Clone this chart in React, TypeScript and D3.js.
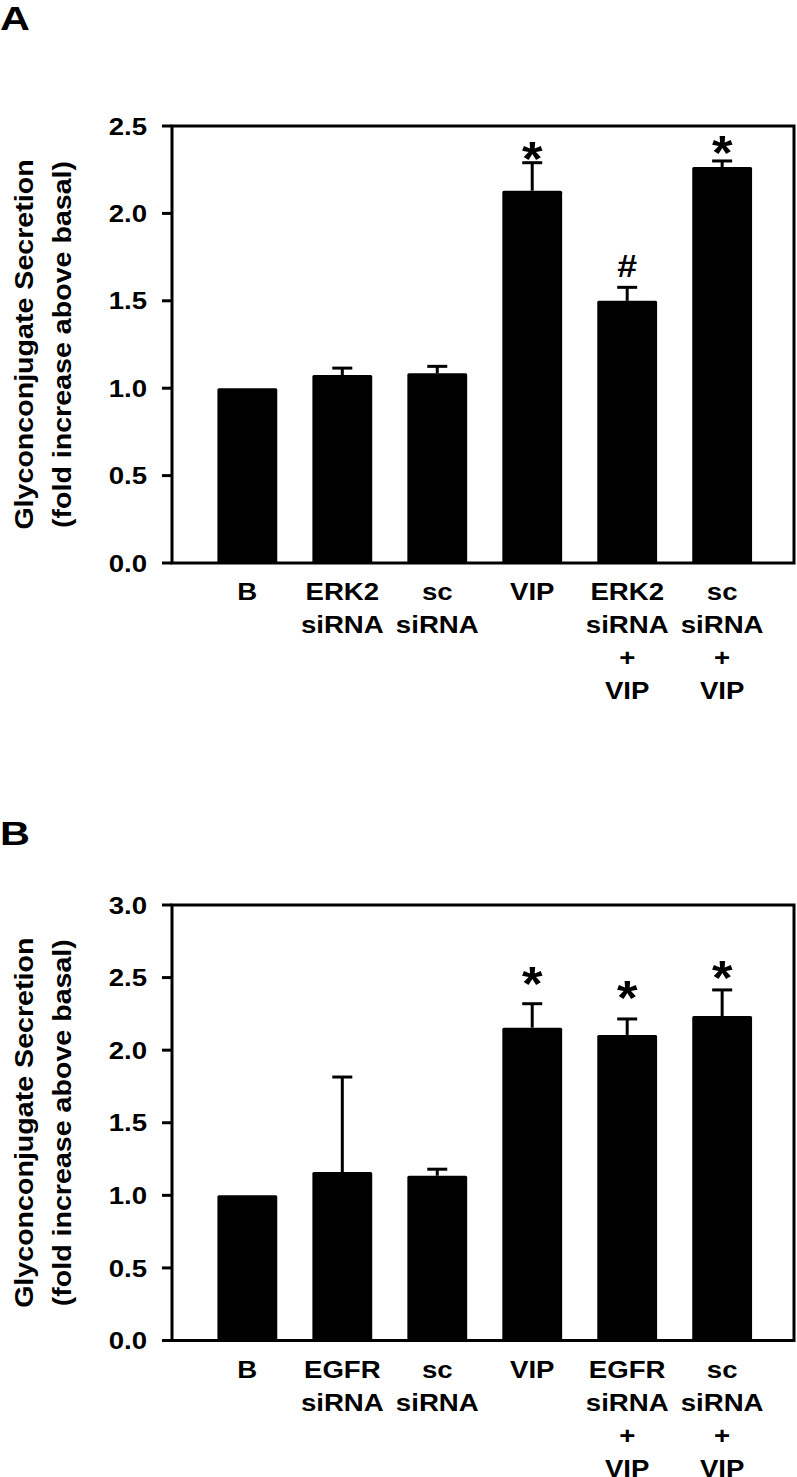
import React from "react";
import * as d3 from "d3";

// ---------- data ----------
const labelsA: string[][] = [
  ["B"],
  ["ERK2", "siRNA"],
  ["sc", "siRNA"],
  ["VIP"],
  ["ERK2", "siRNA", "+", "VIP"],
  ["sc", "siRNA", "+", "VIP"],
];
const valuesA = [1.0, 1.075, 1.085, 2.13, 1.5, 2.265];
const errorsA = [0, 0.04, 0.04, 0.16, 0.077, 0.035];
const marksA = ["", "", "", "*", "#", "*"];
const markLevelA = [0, 0, 0, 2.373, 1.698, 2.409];
const ticksA = [0, 0.5, 1.0, 1.5, 2.0, 2.5];

const labelsB: string[][] = [
  ["B"],
  ["EGFR", "siRNA"],
  ["sc", "siRNA"],
  ["VIP"],
  ["EGFR", "siRNA", "+", "VIP"],
  ["sc", "siRNA", "+", "VIP"],
];
const valuesB = [1.0, 1.16, 1.135, 2.155, 2.105, 2.235];
const errorsB = [0, 0.655, 0.045, 0.165, 0.11, 0.18];
const marksB = ["", "", "", "*", "*", "*"];
const markLevelB = [0, 0, 0, 2.529, 2.433, 2.574];
const ticksB = [0, 0.5, 1.0, 1.5, 2.0, 2.5, 3.0];

const titleLines = ["Glyconconjugate Secretion", "(fold increase above basal)"];

const FONT = "'Liberation Sans', Arial, Helvetica, sans-serif";

function T(props: {
  x: number;
  y: number;
  size: number;
  sx?: number;
  rot?: number;
  anchor?: string;
  children: React.ReactNode;
}) {
  const { x, y, size, sx = 1.15, rot = 0, anchor = "middle", children } = props;
  return (
    <text
      transform={`translate(${x},${y}) rotate(${rot}) scale(${sx},1)`}
      fontSize={size}
      fontFamily={FONT}
      fontWeight="bold"
      textAnchor={anchor}
      fill="#000"
    >
      {children}
    </text>
  );
}

function Panel(props: {
  letter: string;
  letterY: number;
  top: number;
  bottom: number;
  yMax: number;
  ticks: number[];
  labels: string[][];
  values: number[];
  errors: number[];
  marks: string[];
  markLevel: number[];
}) {
  const { letter, letterY, top, bottom, yMax, ticks, labels, values, errors, marks, markLevel } = props;
  const left = 172;
  const right = 794;
  const y = d3.scaleLinear().domain([0, yMax]).range([bottom, top]);
  const keys = labels.map((l) => l.join(" "));
  const x = d3
    .scaleBand<string>()
    .domain(keys)
    .range([left, right])
    .paddingInner(0.37)
    .paddingOuter(0.46)
    .align(0.52);
  const bw = x.bandwidth();
  const fmt = d3.format(".1f");
  const mid = (top + bottom) / 2;
  return (
    <g>
      <T x={0} y={letterY} size={34} sx={1.22} anchor="start">
        {letter}
      </T>
      {/* title */}
      <T x={33} y={mid} size={26} sx={1.1} rot={-90}>
        {titleLines[0]}
      </T>
      <T x={71} y={mid} size={26} sx={1.1} rot={-90}>
        {titleLines[1]}
      </T>
      {/* bars */}
      {values.map((v, i) => (
        <rect
          key={"b" + i}
          x={x(keys[i])}
          y={y(v)}
          width={bw}
          height={y(0) - y(v)}
          fill="#000"
          rx={1.5}
        />
      ))}
      {/* error bars */}
      {values.map((v, i) => {
        if (errors[i] <= 0) return null;
        const cx = (x(keys[i]) as number) + bw / 2;
        return (
          <g key={"e" + i} stroke="#000" strokeWidth={3}>
            <line x1={cx} x2={cx} y1={y(v)} y2={y(v + errors[i])} />
            <line x1={cx - 10} x2={cx + 10} y1={y(v + errors[i])} y2={y(v + errors[i])} />
          </g>
        );
      })}
      {/* significance marks */}
      {marks.map((m, i) => {
        if (!m) return null;
        const cx = (x(keys[i]) as number) + bw / 2;
        const cy = y(markLevel[i]);
        if (m === "*")
          return (
            <T key={"m" + i} x={cx} y={cy + 27} size={48} sx={1.1}>
              {m}
            </T>
          );
        return (
          <T key={"m" + i} x={cx} y={cy + 11} size={31} sx={1.15}>
            {m}
          </T>
        );
      })}
      {/* frame */}
      <rect
        x={left}
        y={top}
        width={right - left}
        height={bottom - top}
        fill="none"
        stroke="#000"
        strokeWidth={3}
      />
      {/* y ticks */}
      {ticks.map((t) => (
        <g key={"t" + t}>
          <line x1={left - 10} x2={left} y1={y(t)} y2={y(t)} stroke="#000" strokeWidth={3} />
          <T x={147} y={y(t) + 8.6} size={24} anchor="end">
            {fmt(t)}
          </T>
        </g>
      ))}
      {/* x labels */}
      {labels.map((lines, i) => {
        const cx = (x(keys[i]) as number) + bw / 2;
        return (
          <g key={"l" + i}>
            {lines.map((s, j) => (
              <T key={j} x={cx} y={bottom + 37 + j * 33} size={24}>
                {s}
              </T>
            ))}
          </g>
        );
      })}
    </g>
  );
}

export default function App() {
  return (
    <svg
      width={797}
      height={1477}
      style={{ position: "absolute", left: 0, top: 0, background: "#fff" }}
    >
      <rect x={0} y={0} width={797} height={1477} fill="#fff" />
      <Panel
        letter="A"
        letterY={30}
        top={126}
        bottom={563}
        yMax={2.5}
        ticks={ticksA}
        labels={labelsA}
        values={valuesA}
        errors={errorsA}
        marks={marksA}
        markLevel={markLevelA}
      />
      <Panel
        letter="B"
        letterY={845}
        top={905}
        bottom={1340.5}
        yMax={3.0}
        ticks={ticksB}
        labels={labelsB}
        values={valuesB}
        errors={errorsB}
        marks={marksB}
        markLevel={markLevelB}
      />
    </svg>
  );
}
